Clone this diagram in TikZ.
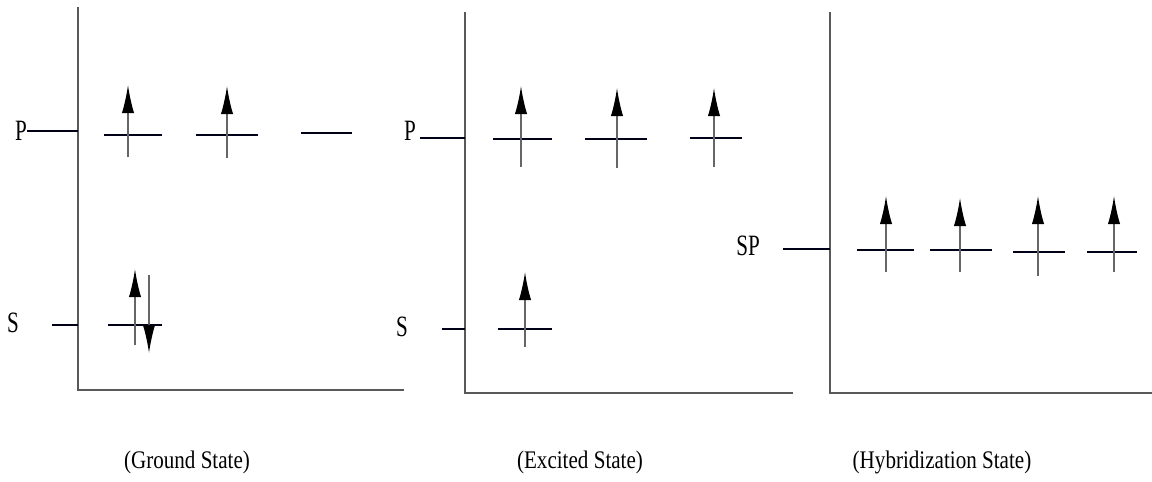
\documentclass[tikz,border=0pt]{standalone}
\usepackage{fontspec}
\setmainfont{Liberation Serif}
\usetikzlibrary{arrows.meta}

\begin{document}
\begin{tikzpicture}[x=0.02cm, y=-0.02cm,
        axis/.style ={line width=0.9pt, draw=black!65},
        lvl/.style ={line width=1pt, draw=black!90!blue},
        up/.style ={-{Latex[length=16pt,width=7pt,black]}, line width=0.8pt, draw=black!60},
        lbl/.style ={font=\fontsize{12}{14}\selectfont, inner sep=0pt, yscale=1.4},
        captxt/.style ={font=\fontsize{12}{14}\selectfont, inner sep=0pt, yscale=1.2}]
    \useasboundingbox (0,0) rectangle (1152,481);

    %--- Ground state ---
    \coordinate (gTop) at (78,7);
    \coordinate (gO) at (78,390);
    \coordinate (gEnd) at (404,390);
    \draw[axis] (gTop) -- (gO) -- (gEnd);

    \node[lbl] (gP) at (21,131) {P};
    \node[lbl] (gS) at (13,323) {S};
    \coordinate (gSt) at (52,325);
    \draw[lvl] (gP.east) -- (gP.east -| gO);
    \draw[lvl] (gSt) -- (gSt -| gO);

    \coordinate (g1) at (133,135);
    \coordinate (g2) at (227,135);
    \coordinate (g3) at (326,133);
    \coordinate (gs) at (135,325);
    \draw[lvl] (g1) ++(-29,0) -- ++(58,0);
    \draw[lvl] (g2) ++(-31,0) -- ++(62,0);
    \draw[lvl] (g3) ++(-25,0) -- ++(51,0);
    \draw[lvl] (gs) ++(-27,0) -- ++(54,0);
    \draw[up] (g1) ++(-5,22) -- ++(0,-72);
    \draw[up] (g2) ++(0,23) -- ++(0,-72);
    \draw[up] (gs) ++(0,20) -- ++(0,-76);
    \draw[up] (gs) ++(14,-50) -- ++(0,78);

    %--- Excited state ---
    \coordinate (eTop) at (465,12);
    \coordinate (eO) at (465,393);
    \coordinate (eEnd) at (793,393);
    \draw[axis] (eTop) -- (eO) -- (eEnd);

    \node[lbl] (eP) at (410,131) {P};
    \node[lbl] (eS) at (402,327) {S};
    \coordinate (ePt) at (420,138);
    \coordinate (eSt) at (442,329);
    \draw[lvl] (ePt) -- (ePt -| eO);
    \draw[lvl] (eSt) -- (eSt -| eO);

    \coordinate (e1) at (522,139);
    \coordinate (e2) at (616,139);
    \coordinate (e3) at (716,138);
    \coordinate (es) at (525,329);
    \draw[lvl] (e1) ++(-29,0) -- ++(59,0);
    \draw[lvl] (e2) ++(-31,0) -- ++(62,0);
    \draw[lvl] (e3) ++(-26,0) -- ++(52,0);
    \draw[lvl] (es) ++(-27,0) -- ++(54,0);
    \draw[up] (e1) ++(-1,28) -- ++(0,-81);
    \draw[up] (e2) ++(1,29) -- ++(0,-80);
    \draw[up] (e3) ++(-2,29) -- ++(0,-79);
    \draw[up] (es) ++(0,18) -- ++(0,-75);

    %--- Hybridization state ---
    \coordinate (hTop) at (830,12);
    \coordinate (hO) at (830,393);
    \coordinate (hEnd) at (1152,393);
    \draw[axis] (hTop) -- (hO) -- (hEnd);

    \node[lbl] (hSP) at (748,246) {SP};
    \coordinate (hSt) at (783,249);
    \draw[lvl] (hSt) -- (hSt -| hO);

    \coordinate (h1) at (886,250);
    \coordinate (h2) at (961,250);
    \coordinate (h3) at (1039,252);
    \coordinate (h4) at (1112,252);
    \draw[lvl] (h1) ++(-29,0) -- ++(57,0);
    \draw[lvl] (h2) ++(-31,0) -- ++(62,0);
    \draw[lvl] (h3) ++(-26,0) -- ++(52,0);
    \draw[lvl] (h4) ++(-25,0) -- ++(50,0);
    \draw[up] (h1) ++(0,22) -- ++(0,-76);
    \draw[up] (h2) ++(-1,22) -- ++(0,-74);
    \draw[up] (h3) ++(-1,24) -- ++(0,-80);
    \draw[up] (h4) ++(2,20) -- ++(0,-76);

    %--- Captions ---
    \node[captxt] (gCap) at (187,462) {(Ground State)};
    \node[captxt] (eCap) at (580,462) {(Excited State)};
    \node[captxt] (hCap) at (942,462) {(Hybridization State)};
\end{tikzpicture}
\end{document}
